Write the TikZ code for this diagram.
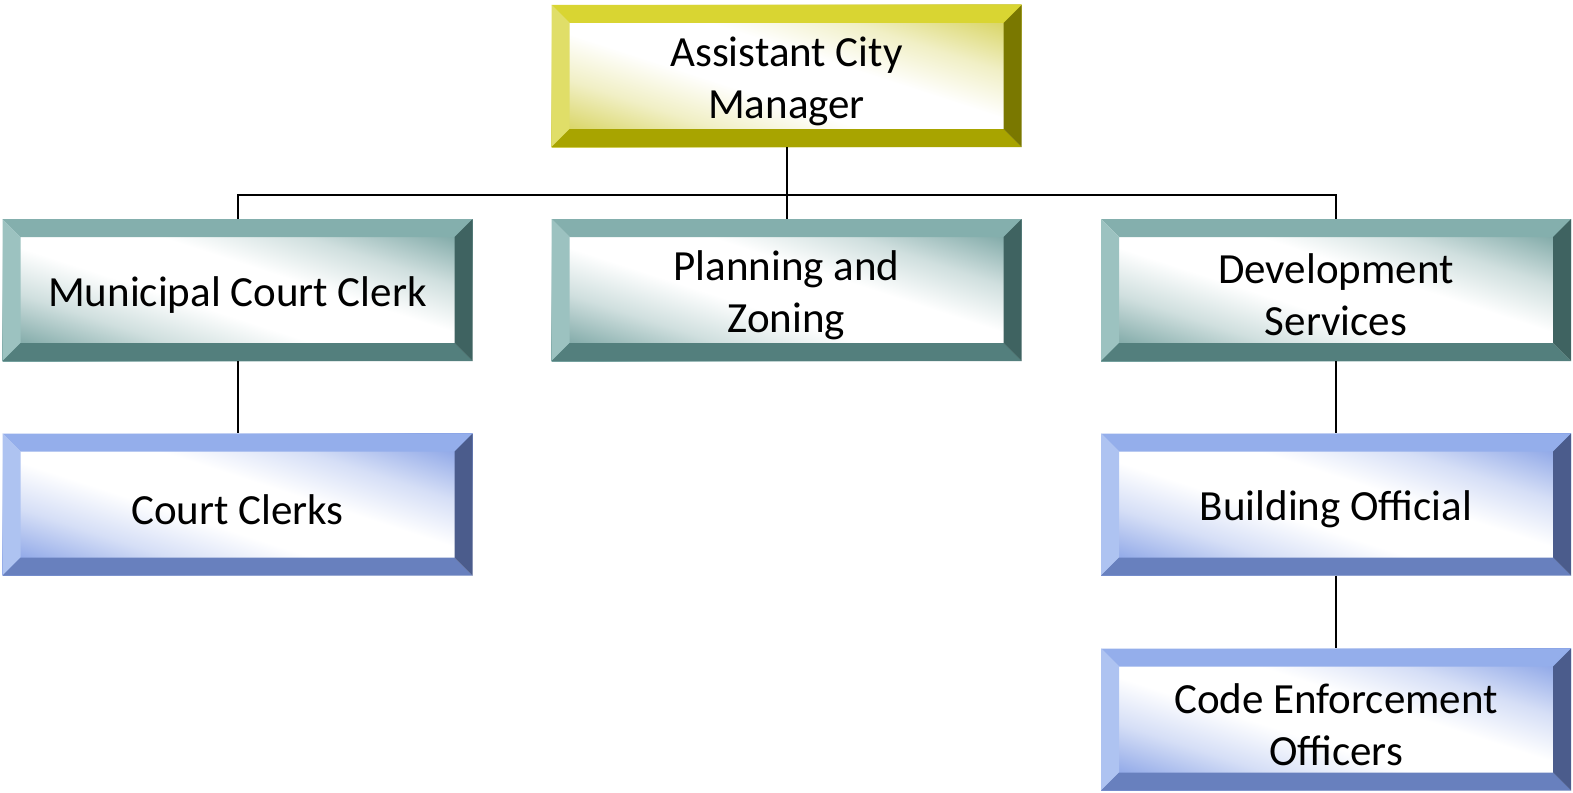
\documentclass[tikz,border=0pt]{standalone}
\usepackage{fontspec}
\setmainfont{Carlito}
\definecolor{yT}{RGB}{217,213,50}
\definecolor{yL}{RGB}{224,222,104}
\definecolor{yB}{RGB}{168,164,0}
\definecolor{yR}{RGB}{122,120,0}
\definecolor{yF}{RGB}{214,210,90}
\definecolor{tT}{RGB}{132,175,173}
\definecolor{tL}{RGB}{156,194,192}
\definecolor{tB}{RGB}{83,127,125}
\definecolor{tR}{RGB}{63,99,97}
\definecolor{tF}{RGB}{120,164,162}
\definecolor{bT}{RGB}{148,174,235}
\definecolor{bL}{RGB}{174,195,241}
\definecolor{bB}{RGB}{104,128,190}
\definecolor{bR}{RGB}{75,92,140}
\definecolor{bF}{RGB}{136,162,230}
\pgfdeclarehorizontalshading{yface}{100bp}{color(0bp)=(yF); color(22bp)=(yF); color(34bp)=(yF!35!white); color(44bp)=(white); color(56bp)=(white); color(66bp)=(yF!35!white); color(78bp)=(yF); color(100bp)=(yF)}
\pgfdeclarehorizontalshading{tface}{100bp}{color(0bp)=(tF); color(22bp)=(tF); color(34bp)=(tF!35!white); color(44bp)=(white); color(56bp)=(white); color(66bp)=(tF!35!white); color(78bp)=(tF); color(100bp)=(tF)}
\pgfdeclarehorizontalshading{bface}{100bp}{color(0bp)=(bF); color(22bp)=(bF); color(34bp)=(bF!35!white); color(44bp)=(white); color(56bp)=(white); color(66bp)=(bF!35!white); color(78bp)=(bF); color(100bp)=(bF)}
\newcommand{\bvw}{18pt}
\newcommand{\toppad}{\rule{0pt}{40pt}}
\tikzset{
  bevelbox/.style n args={5}{minimum width=470pt, minimum height=142pt, inner sep=0pt,
    align=center, font=\fontsize{43}{52}\selectfont, text=black,
    shading=#5, shading angle=72,
    path picture={
      \fill[#1] (path picture bounding box.north west) -- (path picture bounding box.north east)
        -- ([xshift=-\bvw,yshift=-\bvw]path picture bounding box.north east)
        -- ([xshift=\bvw,yshift=-\bvw]path picture bounding box.north west) -- cycle;
      \fill[#2] (path picture bounding box.north west) -- (path picture bounding box.south west)
        -- ([xshift=\bvw,yshift=\bvw]path picture bounding box.south west)
        -- ([xshift=\bvw,yshift=-\bvw]path picture bounding box.north west) -- cycle;
      \fill[#3] (path picture bounding box.south west) -- (path picture bounding box.south east)
        -- ([xshift=-\bvw,yshift=\bvw]path picture bounding box.south east)
        -- ([xshift=\bvw,yshift=\bvw]path picture bounding box.south west) -- cycle;
      \fill[#4] (path picture bounding box.north east) -- (path picture bounding box.south east)
        -- ([xshift=-\bvw,yshift=\bvw]path picture bounding box.south east)
        -- ([xshift=-\bvw,yshift=-\bvw]path picture bounding box.north east) -- cycle;
    }},
  yellowbox/.style={bevelbox={yT}{yL}{yB}{yR}{yface}},
  tealbox/.style={bevelbox={tT}{tL}{tB}{tR}{tface}},
  bluebox/.style={bevelbox={bT}{bL}{bB}{bR}{bface}},
  link/.style={draw=black, line width=2pt}
}
\begin{document}
\begin{tikzpicture}[x=1pt,y=-1pt]
\useasboundingbox (0,0) rectangle (1573,792);
\node[yellowbox] (acm) at (786.5,76) {\toppad Assistant City\\Manager};
\node[tealbox] (mcc) at (237.5,290) {\toppad Municipal Court Clerk};
\node[tealbox] (pz) at (786.5,290) {\toppad Planning and\\Zoning};
\node[tealbox] (ds) at (1336,290) {\toppad Development\\Services};
\node[bluebox] (cc) at (237.5,504.5) {\toppad Court Clerks};
\node[bluebox] (bo) at (1336,504.5) {\toppad Building Official};
\node[bluebox] (ceo) at (1336,719.5) {\toppad Code Enforcement\\Officers};
\coordinate (bus) at (786.5,195);
\draw[link] (acm.south) -- (pz.north);
\draw[link] (mcc.north) -- (mcc.north |- bus) -- (ds.north |- bus) -- (ds.north);
\draw[link] (mcc.south) -- (cc.north);
\draw[link] (ds.south) -- (bo.north);
\draw[link] (bo.south) -- (ceo.north);
\end{tikzpicture}
\end{document}
